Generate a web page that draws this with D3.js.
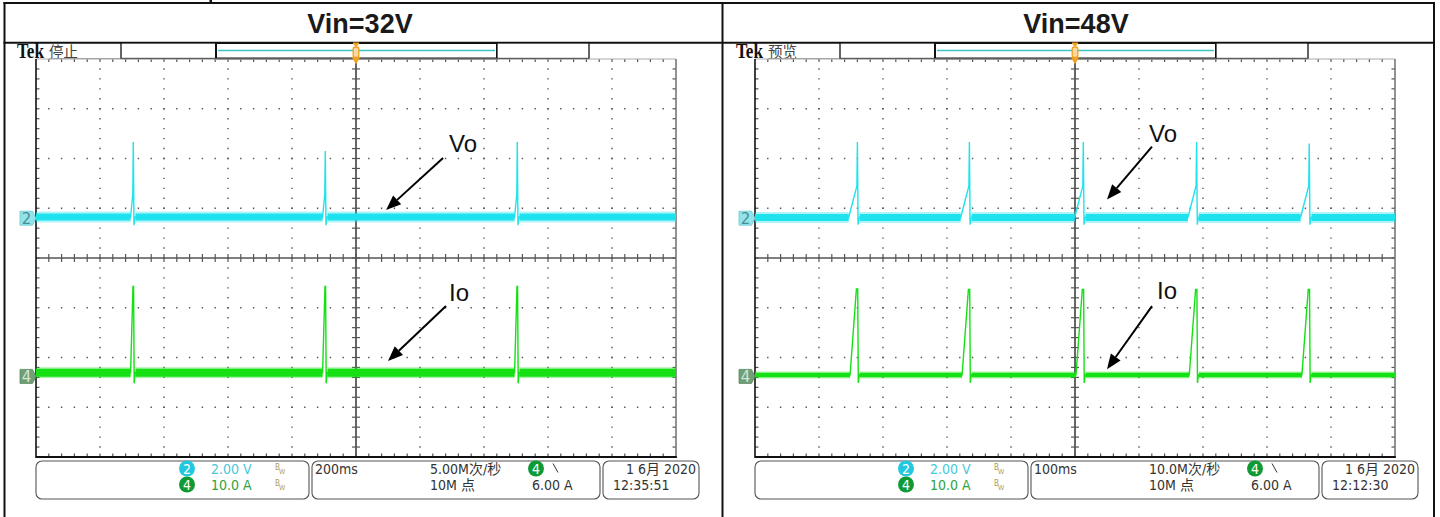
<!DOCTYPE html>
<html><head><meta charset="utf-8">
<script src="https://cdn.jsdelivr.net/npm/d3@7/dist/d3.min.js"></script>
<style>html,body{margin:0;padding:0;background:#fff;}svg{display:block}</style>
</head><body>
<svg id="c" width="1440" height="517"></svg>
<script>
// ================= DATA =================
const panelTitles    = ["Vin=32V", "Vin=48V"];
const scopeStates    = ["停止", "预览"];
const timePerDivMs   = [200, 100];
const timeLabels     = ["200ms", "100ms"];
const sampleRates    = ["5.00M次/秒", "10.0M次/秒"];
const recordLengths  = ["10M 点", "10M 点"];
const triggerLevels  = ["6.00 A", "6.00 A"];
const dateLabels     = ["1 6月 2020", "1 6月 2020"];
const clockLabels    = ["12:35:51", "12:12:30"];
const ch2ScaleLabel  = "2.00 V";
const ch4ScaleLabel  = "10.0 A";
const voltsPerDiv    = 2;
const ampsPerDiv     = 10;
const ch2PositionDiv = [0.8, 0.8];     // ground marker position (div from centre)
const ch4PositionDiv = [-2.38, -2.38];
// spike events (ms from the left edge of the screen)
const spikeTimesMs   = [[304, 904, 1504], [160, 335, 513, 690, 866]];
const voBaselineV    = [0.05, 0.03];
const voRampV        = [0.96, 1.3];
const voPeakV        = [[3.06, 2.7, 3.06], [3.06, 3.06, 3.06, 3.06, 3.0]];
const voUndershootV  = [-0.28, -0.26];
const ioBaselineA    = [0.75, 0.3];
const ioPeakA        = [[18.1, 18.1, 18.1], [17.6, 17.5, 17.5, 17.5, 17.5]];
const ioUndershootA  = [-1.4, -1.3];
// annotation arrow tips (time ms, value) and labels
const annoLabels     = ["Vo", "Io"];
const voArrowTip     = [[1094, 0.33], [550, 0.75]];
const ioArrowTip     = [[1100, 3.1], [550, 1.45]];

// ================= LAYOUT / STYLE =================
const svg = d3.select("#c");
const CYAN = "#1ee2ee", GREEN = "#14e014";
const NARROW = "'Liberation Sans Narrow','DejaVu Sans Condensed','Noto Sans CJK SC',sans-serif";
const CJK = "'Noto Sans CJK SC',sans-serif";
const panelDx = [0, 719];
const GX = 36, GY = 59, GW = 640, GH = 398;

// tiny fragment above table
svg.append("rect").attr("x", 209.5).attr("y", 0).attr("width", 2.5).attr("height", 3.5).attr("fill", "#111");

// table borders
const tb = svg.append("g").attr("stroke", "#111").attr("stroke-width", 2);
tb.append("line").attr("x1", 3.5).attr("x2", 1435).attr("y1", 3).attr("y2", 3);
tb.append("line").attr("x1", 3.5).attr("x2", 1435).attr("y1", 42.7).attr("y2", 42.7);
[4.5, 722.5, 1434].forEach(x => tb.append("line").attr("x1", x).attr("x2", x).attr("y1", 2).attr("y2", 517));

panelTitles.forEach((t, p) => {
  svg.append("text").attr("x", [360, 1076][p]).attr("y", 33).attr("text-anchor", "middle")
    .attr("font-family", "'Liberation Sans',Arial,sans-serif").attr("font-weight", "bold")
    .attr("font-size", 27).attr("fill", "#1a1a1a").text(t);
});

function drawPanel(p) {
  const dx = panelDx[p];
  const g = svg.append("g");
  const tpd = timePerDivMs[p];
  const x0 = GX + dx, x1 = x0 + GW, y0 = GY, y1 = GY + GH;
  const x = d3.scaleLinear().domain([0, 10 * tpd]).range([x0, x1]);
  const yDiv = d3.scaleLinear().domain([-4, 4]).range([y1, y0]);
  const yV = v => yDiv(ch2PositionDiv[p] + v / voltsPerDiv);
  const yA = a => yDiv(ch4PositionDiv[p] + a / ampsPerDiv);
  const xc = x(5 * tpd), yc = yDiv(0);
  const minorX = GW / 50, minorY = GH / 40;

  // ---------- top bar ----------
  g.append("text").attr("x", 17 + dx).attr("y", 58)
    .attr("font-family", "'Liberation Serif','DejaVu Serif',serif").attr("font-weight", "bold")
    .attr("font-size", 21).attr("textLength", 27).attr("lengthAdjust", "spacingAndGlyphs")
    .attr("fill", "#111").text("Tek");
  g.append("text").attr("x", 49 + dx).attr("y", 56.5).attr("font-family", CJK)
    .attr("font-size", 14.5).attr("fill", "#444").text(scopeStates[p]);
  g.append("line").attr("x1", 49 + dx).attr("x2", 121 + dx).attr("y1", 58.5).attr("y2", 58.5)
    .attr("stroke", "#888").attr("stroke-width", 0.8);
  g.append("rect").attr("x", 121 + dx).attr("y", 43).attr("width", 95).attr("height", 15.5)
    .attr("fill", "#fff").attr("stroke", "#111").attr("stroke-width", 1.3);
  g.append("rect").attr("x", 216 + dx).attr("y", 43).attr("width", 281).attr("height", 15.5)
    .attr("fill", "#fff").attr("stroke", "#111").attr("stroke-width", 2);
  g.append("rect").attr("x", 497 + dx).attr("y", 43).attr("width", 92).attr("height", 15.5)
    .attr("fill", "#fff").attr("stroke", "#111").attr("stroke-width", 1.3);
  g.append("line").attr("x1", 218 + dx).attr("x2", 495 + dx).attr("y1", 50.5).attr("y2", 50.5)
    .attr("stroke", "#3cc4c4").attr("stroke-width", 1.5);

  // ---------- graticule ----------
  const gr = g.append("g");
  d3.range(1, 10).filter(i => i !== 5).forEach(i => {
    gr.append("line").attr("x1", x(i * tpd)).attr("x2", x(i * tpd)).attr("y1", y0).attr("y2", y1)
      .attr("stroke", "#555").attr("stroke-width", 1.4)
      .attr("stroke-dasharray", `1.4,${minorY - 1.4}`).attr("stroke-dashoffset", 0.7);
  });
  d3.range(-3, 4).filter(i => i !== 0).forEach(i => {
    gr.append("line").attr("x1", x0).attr("x2", x1).attr("y1", yDiv(i)).attr("y2", yDiv(i))
      .attr("stroke", "#555").attr("stroke-width", 1.4)
      .attr("stroke-dasharray", `1.4,${minorX - 1.4}`).attr("stroke-dashoffset", 0.7);
  });
  gr.append("line").attr("x1", x0).attr("x2", x1).attr("y1", yc).attr("y2", yc)
    .attr("stroke", "#555").attr("stroke-width", 1.4);
  gr.append("line").attr("x1", xc).attr("x2", xc).attr("y1", y0).attr("y2", y1)
    .attr("stroke", "#666").attr("stroke-width", 2);
  const ticks = gr.append("g").attr("stroke", "#555").attr("stroke-width", 1.2);
  d3.range(1, 50).forEach(k => {
    const xx = x0 + k * minorX;
    ticks.append("line").attr("x1", xx).attr("x2", xx).attr("y1", yc - 4).attr("y2", yc + 4);
    ticks.append("line").attr("x1", xx).attr("x2", xx).attr("y1", y1 - 3.5).attr("y2", y1);
    ticks.append("line").attr("x1", xx).attr("x2", xx).attr("y1", y0).attr("y2", y0 + 3);
  });
  d3.range(1, 40).forEach(k => {
    const yy = y0 + k * minorY;
    ticks.append("line").attr("x1", xc - 4).attr("x2", xc + 4).attr("y1", yy).attr("y2", yy);
    ticks.append("line").attr("x1", x0).attr("x2", x0 + 3.5).attr("y1", yy).attr("y2", yy);
    ticks.append("line").attr("x1", x1 - 3.5).attr("x2", x1).attr("y1", yy).attr("y2", yy);
  });
  gr.append("line").attr("x1", x0).attr("x2", x1).attr("y1", y0).attr("y2", y0).attr("stroke", "#aaa").attr("stroke-width", 1);
  gr.append("line").attr("x1", x0).attr("x2", x0).attr("y1", y0).attr("y2", y1 + 1).attr("stroke", "#111").attr("stroke-width", 1.6);
  gr.append("line").attr("x1", x1).attr("x2", x1).attr("y1", y0).attr("y2", y1 + 1).attr("stroke", "#777").attr("stroke-width", 1.6);
  gr.append("line").attr("x1", x0).attr("x2", x1 + 0.8).attr("y1", y1).attr("y2", y1).attr("stroke", "#111").attr("stroke-width", 2.2);

  // trigger position marker
  const tm = g.append("g").attr("fill", "#f2a11f").attr("stroke", "#f2a11f");
  tm.append("path").attr("d", `M${xc - 3},43 L${xc + 3},43 L${xc},46.5 Z`);
  tm.append("rect").attr("x", xc - 2.8).attr("y", 47).attr("width", 5.6).attr("height", 10.5).attr("rx", 2)
    .attr("fill", "#fbd9a0").attr("stroke-width", 1.3);
  tm.append("path").attr("d", `M${xc - 3.5},57.5 L${xc + 3.5},57.5 L${xc},63.5 Z`);

  // ---------- traces ----------
  const mpp = tpd / 64; // ms per pixel
  const spikes = spikeTimesMs[p];
  const vRise = [2.7, 8.7][p], iRise = [2.7, 7.3][p];
  const vo = [[0, voBaselineV[p]]];
  const io = [[0, ioBaselineA[p]]];
  spikes.forEach((t, i) => {
    vo.push([t - vRise * mpp, voBaselineV[p]], [t - 0.5 * mpp, voRampV[p]], [t, voPeakV[p][i]],
            [t + 0.7 * mpp, voUndershootV[p]], [t + 1.6 * mpp, voBaselineV[p]]);
    io.push([t - iRise * mpp, ioBaselineA[p]], [t - [0.3, 1][p] * mpp, ioPeakA[p][i]], [t + 0.3 * mpp, ioPeakA[p][i]],
            [t + 0.9 * mpp, ioUndershootA[p]], [t + 1.8 * mpp, ioBaselineA[p]]);
  });
  vo.push([10 * tpd, voBaselineV[p]]);
  io.push([10 * tpd, ioBaselineA[p]]);

  function band(startEnd, yval, color, core, fuzz) {
    startEnd.forEach(([a, b]) => {
      g.append("line").attr("x1", x(a)).attr("x2", x(b)).attr("y1", yval).attr("y2", yval)
        .attr("stroke", color).attr("stroke-width", fuzz).attr("opacity", 0.35);
      g.append("line").attr("x1", x(a)).attr("x2", x(b)).attr("y1", yval).attr("y2", yval)
        .attr("stroke", color).attr("stroke-width", core);
    });
  }
  const segs = (rise) => {
    const s = [];
    let prev = 0;
    spikes.forEach(t => { s.push([prev, t - rise * mpp]); prev = t + 2.2 * mpp; });
    s.push([prev, 10 * tpd]);
    return s;
  };
  band(segs(vRise), yV(voBaselineV[p]), CYAN, 7, 11);
  band(segs(iRise), yA(ioBaselineA[p]), GREEN, [8, 4.5][p], [11, 7][p]);

  const line = (fy) => d3.line().x(d => x(d[0])).y(d => fy(d[1]));
  g.append("path").attr("d", line(yV)(vo)).attr("fill", "none").attr("stroke", CYAN).attr("stroke-width", 1.4);
  g.append("path").attr("d", line(yA)(io)).attr("fill", "none").attr("stroke", GREEN).attr("stroke-width", 1.4);

  // channel ground markers
  function marker(yy, fill, stroke, txt, tcol) {
    const mx = x0;
    g.append("path").attr("d", `M${mx - 16},${yy - 7} L${mx - 3.5},${yy - 7} L${mx},${yy} L${mx - 3.5},${yy + 7} L${mx - 16},${yy + 7} Z`)
      .attr("fill", fill).attr("stroke", stroke).attr("stroke-width", 0.8);
    g.append("text").attr("x", mx - 9.5).attr("y", yy + 5.5).attr("text-anchor", "middle")
      .attr("font-family", "'DejaVu Sans',sans-serif").attr("font-size", 15).attr("fill", tcol).text(txt);
  }
  marker(yV(0), "#93e4ea", "#6ccad0", "2", "#4a8e96");
  marker(yA(0), "#6f9f76", "#5a8a60", "4", "#d4e4d4");

  // ---------- annotations ----------
  function arrow(tip, dxTail, dyTail) {
    const tx = tip[0], ty = tip[1];
    const sx = tx + dxTail, sy = ty + dyTail;
    const ang = Math.atan2(ty - sy, tx - sx);
    const L = 15, Wd = 6;
    const bx = tx - L * Math.cos(ang), by = ty - L * Math.sin(ang);
    g.append("line").attr("x1", sx).attr("y1", sy).attr("x2", bx).attr("y2", by)
      .attr("stroke", "#000").attr("stroke-width", 2);
    g.append("path").attr("d", `M${tx},${ty} L${bx + Wd * Math.sin(ang)},${by - Wd * Math.cos(ang)} L${bx - Wd * Math.sin(ang)},${by + Wd * Math.cos(ang)} Z`)
      .attr("fill", "#000");
  }
  const vTip = [x(voArrowTip[p][0]), yV(voArrowTip[p][1])];
  const iTip = [x(ioArrowTip[p][0]), yA(ioArrowTip[p][1])];
  const vTail = [[57, -52], [45, -53]][p], iTail = [[58, -55], [45, -63]][p];
  arrow(vTip, vTail[0], vTail[1]);
  arrow(iTip, iTail[0], iTail[1]);
  const lab = (txt, xx, yy) => g.append("text").attr("x", xx).attr("y", yy)
    .attr("font-family", "'Liberation Sans',Arial,sans-serif").attr("font-size", 24).attr("fill", "#111").text(txt);
  lab(annoLabels[0], vTip[0] + [63, 42][p], vTip[1] + [-58, -58][p]);
  lab(annoLabels[1], iTip[0] + [61, 50][p], iTip[1] + [-60, -70][p]);

  // ---------- status bar ----------
  const sb = g.append("g");
  [[36, 309], [312, 600], [603, 699]].forEach(([a, b]) => {
    sb.append("rect").attr("x", a + dx).attr("y", 461).attr("width", b - a).attr("height", 38).attr("rx", 6)
      .attr("fill", "#fff").attr("stroke", "#555").attr("stroke-width", 1.1);
  });
  const txt = (s, xx, yy, col, anchor) => sb.append("text").attr("x", xx + dx).attr("y", yy)
    .attr("font-family", NARROW).attr("font-size", 14).attr("fill", col)
    .attr("text-anchor", anchor || "start").text(s);
  const badge = (xx, yy, fill, s) => {
    sb.append("circle").attr("cx", xx + dx).attr("cy", yy).attr("r", 8).attr("fill", fill);
    sb.append("text").attr("x", xx + dx).attr("y", yy + 5).attr("text-anchor", "middle")
      .attr("font-family", NARROW).attr("font-size", 14).attr("fill", "#fff").text(s);
  };
  badge(187, 468.5, "#22c8de", "2");
  badge(187, 484.5, "#0f9a36", "4");
  txt(ch2ScaleLabel, 211, 473.5, "#46c9da");
  txt(ch4ScaleLabel, 211, 489.5, "#2ea23c");
  [[470, 474], [486, 490]].forEach(([b1, b2]) => {
    sb.append("text").attr("x", 275 + dx).attr("y", b1).attr("font-family", NARROW).attr("font-size", 8).attr("fill", "#b09a5a").text("B");
    sb.append("text").attr("x", 279 + dx).attr("y", b2).attr("font-family", NARROW).attr("font-size", 7).attr("fill", "#b09a5a").text("W");
  });
  txt(timeLabels[p], 315, 473.5, "#333");
  txt(sampleRates[p], 430, 473.5, "#333");
  txt(recordLengths[p], 430, 489.5, "#333");
  badge(536, 468.5, "#0f9a36", "4");
  sb.append("line").attr("x1", 553 + dx).attr("y1", 463.5).attr("x2", 558 + dx).attr("y2", 472.5)
    .attr("stroke", "#333").attr("stroke-width", 1);
  txt(triggerLevels[p], 532, 489.5, "#333");
  txt(dateLabels[p], 696, 473.5, "#333", "end");
  txt(clockLabels[p], 613, 489.5, "#333");
}

drawPanel(0);
drawPanel(1);
</script>
</body></html>
